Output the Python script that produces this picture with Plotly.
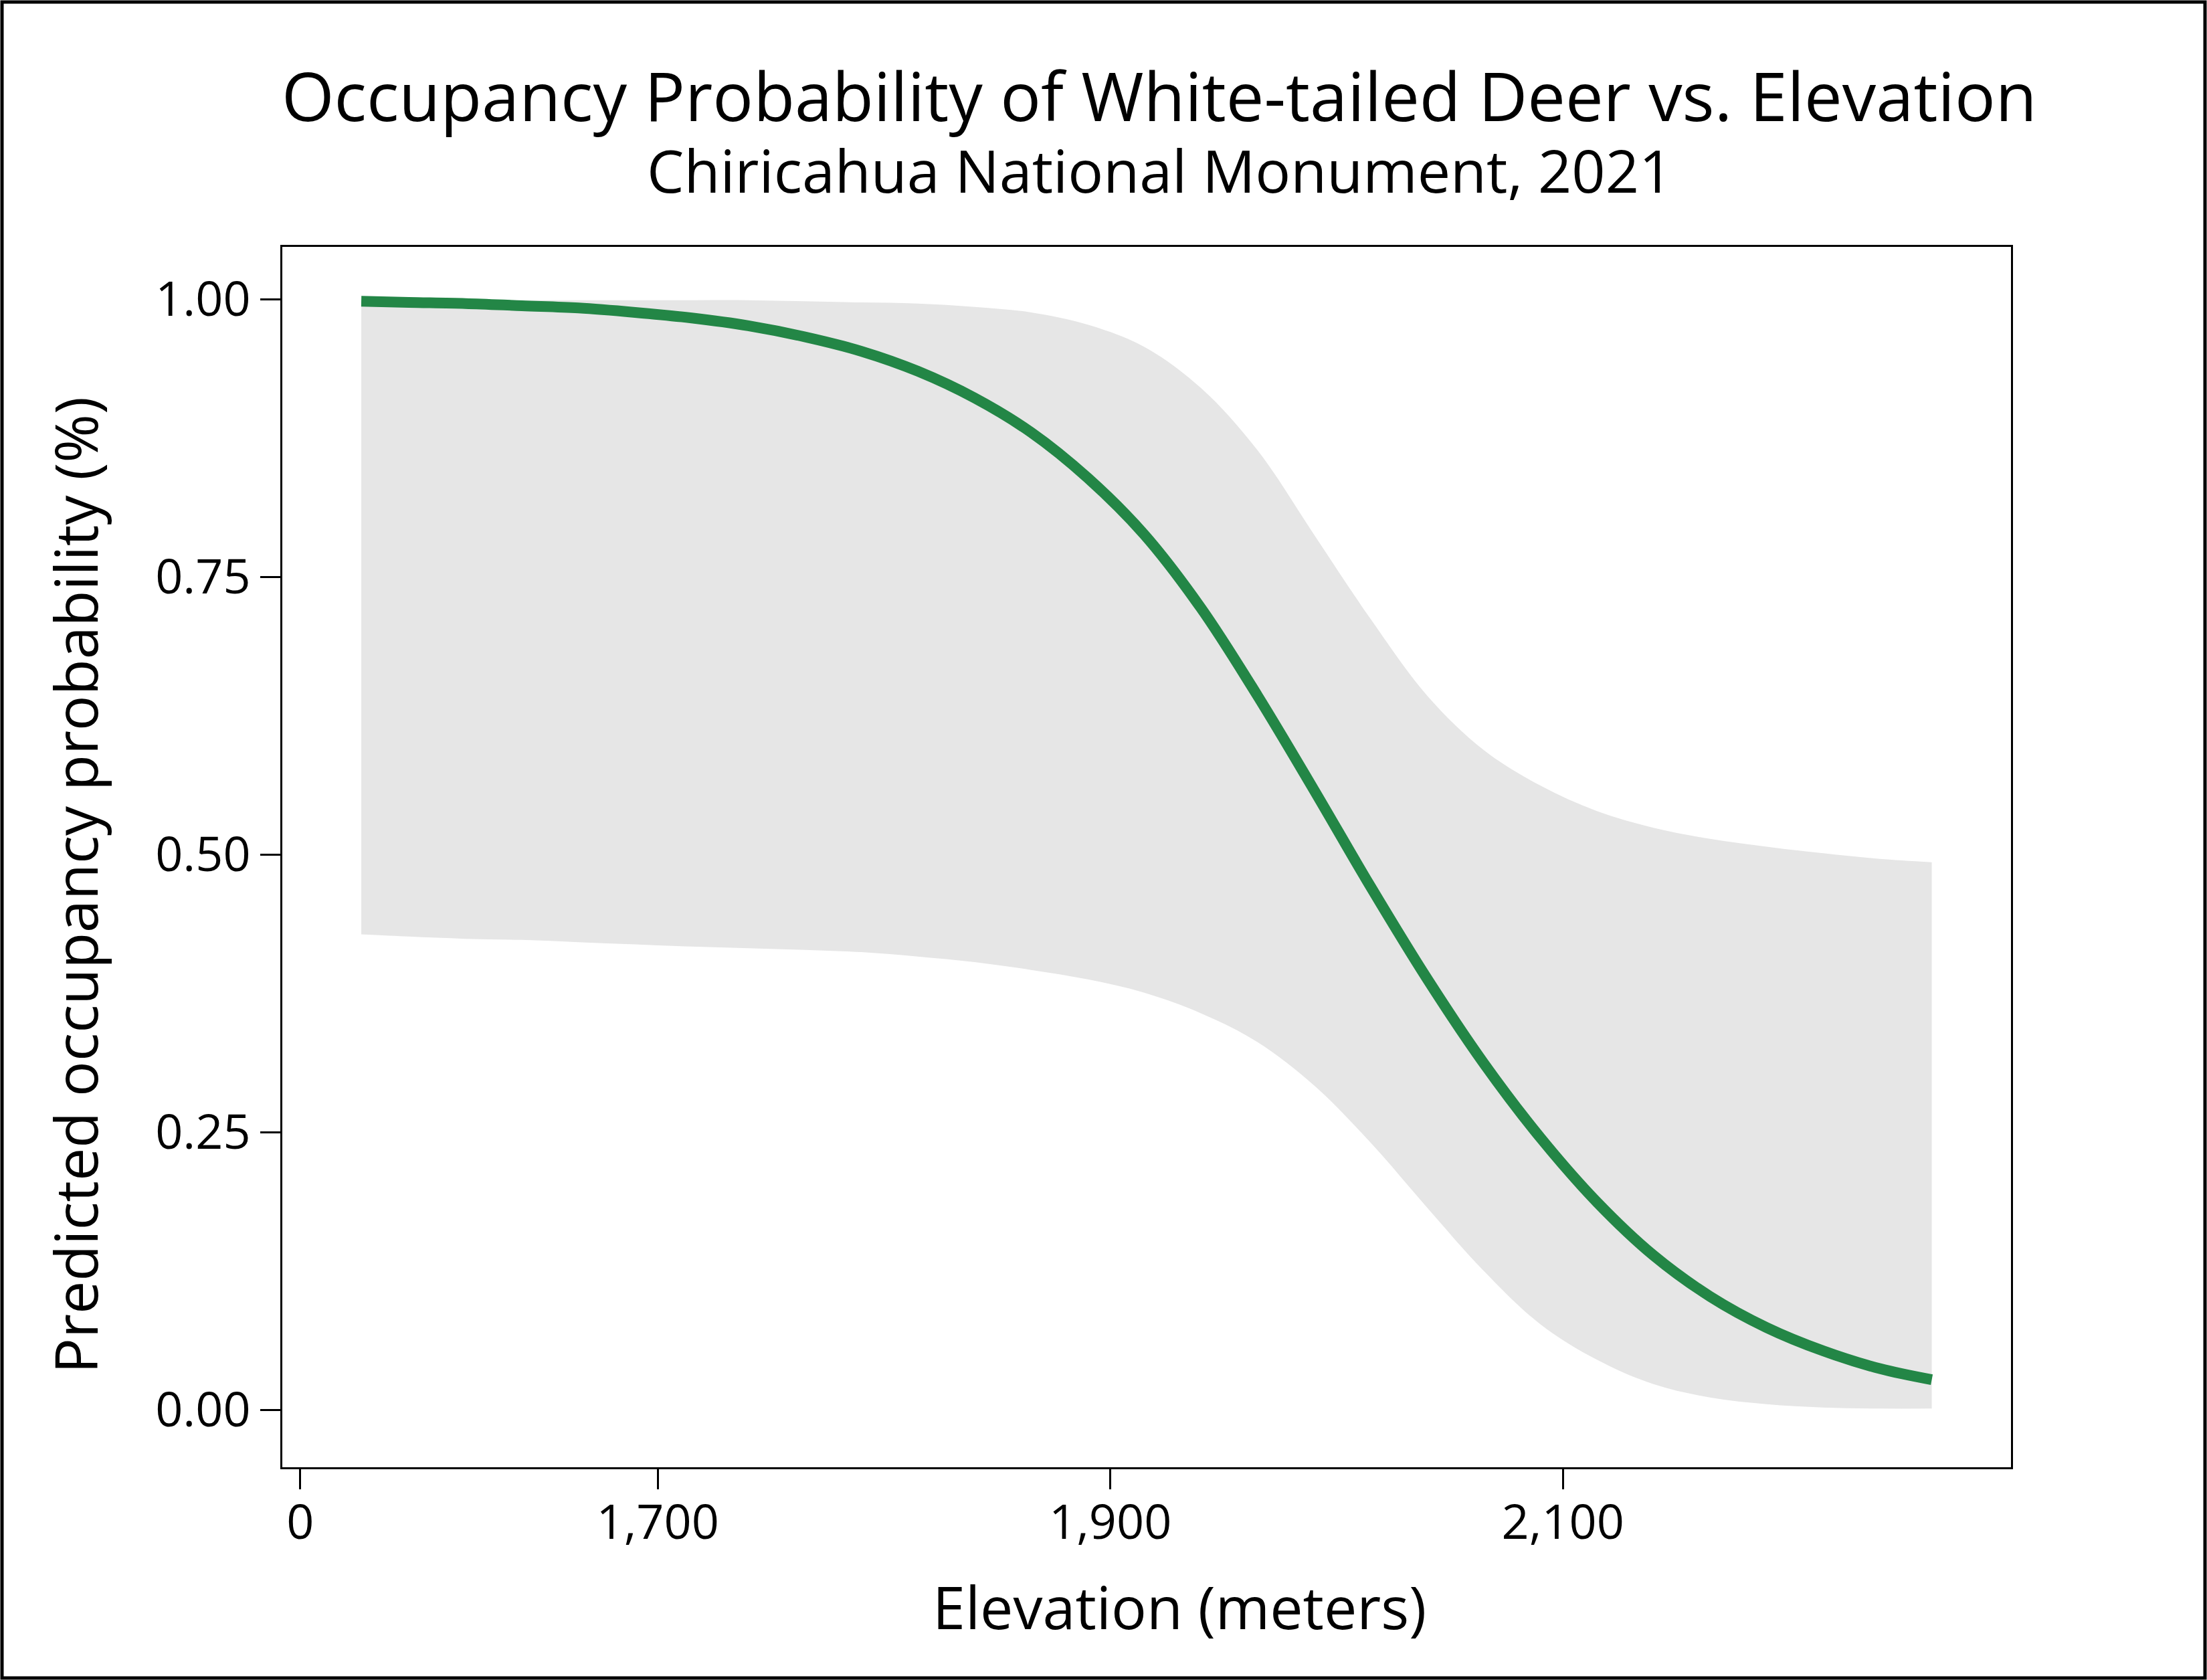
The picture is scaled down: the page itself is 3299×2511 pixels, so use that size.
import plotly.graph_objects as go

# ── Data ──
elevation = [1569, 1590, 1615, 1640, 1665, 1690, 1715, 1740, 1765, 1790,
             1815, 1840, 1865, 1890, 1915, 1940, 1965, 1990, 2015, 2040,
             2065, 2090, 2115, 2140, 2165, 2190, 2215, 2240, 2263]
occupancy = [0.998, 0.997, 0.996, 0.994, 0.992, 0.988, 0.983, 0.976, 0.966, 0.953,
             0.935, 0.911, 0.880, 0.839, 0.788, 0.722, 0.643, 0.558, 0.471, 0.388,
             0.312, 0.245, 0.187, 0.139, 0.102, 0.074, 0.053, 0.037, 0.027]
upper_ci = [0.999, 0.999, 0.999, 0.999, 0.999, 0.999, 0.999, 0.999, 0.998, 0.997,
            0.996, 0.993, 0.988, 0.977, 0.957, 0.920, 0.864, 0.788, 0.712, 0.643,
            0.594, 0.562, 0.539, 0.524, 0.514, 0.507, 0.501, 0.496, 0.493]
lower_ci = [0.428, 0.426, 0.424, 0.423, 0.421, 0.419, 0.417, 0.4155, 0.414, 0.412,
            0.408, 0.403, 0.396, 0.3875, 0.3755, 0.357, 0.331, 0.292, 0.2405, 0.182,
            0.125, 0.077, 0.045, 0.023, 0.011, 0.005, 0.002, 0.001, 0.001]

x_tickvals = [1542, 1700, 1900, 2100]
x_ticktext = ["0", "1,700", "1,900", "2,100"]
y_tickvals = [0, 0.25, 0.5, 0.75, 1.0]

FONT = "Open Sans"
GREEN = "#238646"
RIBBON = "#E6E6E6"

fig = go.Figure()

# ── confidence ribbon ──
fig.add_trace(go.Scatter(
    x=elevation, y=lower_ci, mode="lines",
    line=dict(width=0, color=RIBBON, shape="spline"),
    showlegend=False, hoverinfo="skip",
))
fig.add_trace(go.Scatter(
    x=elevation, y=upper_ci, mode="lines",
    line=dict(width=0, color=RIBBON, shape="spline"),
    fill="tonexty", fillcolor=RIBBON,
    showlegend=False, hoverinfo="skip",
))

# ── predicted occupancy ──
fig.add_trace(go.Scatter(
    x=elevation, y=occupancy, mode="lines",
    line=dict(width=16, color=GREEN, shape="spline"),
    showlegend=False,
))

axis_common = dict(
    showline=True, linecolor="black", linewidth=3, mirror=True,
    ticks="outside", ticklen=30, tickwidth=3, tickcolor="black",
    showgrid=False, zeroline=False,
    tickfont=dict(family=FONT, size=72, color="black"),
)

fig.update_layout(
    width=3299, height=2511,
    paper_bgcolor="white", plot_bgcolor="white",
    margin=dict(l=422, r=293, t=369, b=318),
    font=dict(family=FONT, color="black"),
    xaxis=dict(
        range=[1534.1, 2298.0],
        tickvals=x_tickvals, ticktext=x_ticktext,
        ticklabelstandoff=-12,
        **axis_common,
    ),
    yaxis=dict(
        range=[-0.0518, 1.047],
        tickvals=y_tickvals, tickformat=".2f",
        ticklabelstandoff=0,
        **axis_common,
    ),
    annotations=[
        dict(text="Occupancy Probability of White-tailed Deer vs. Elevation",
             x=(1733 - 422) / 2584, y=1.0855, xref="paper", yref="paper",
             xanchor="center", yanchor="bottom", showarrow=False,
             font=dict(family=FONT, size=101, color="black")),
        dict(text="Chiricahua National Monument, 2021",
             x=(1733 - 422) / 2584, y=1.029, xref="paper", yref="paper",
             xanchor="center", yanchor="bottom", showarrow=False,
             font=dict(family=FONT, size=88, color="black")),
        dict(text="Elevation (meters)",
             x=(1763 - 422) / 2584, y=-(2401 - 2193) / 1824, xref="paper", yref="paper",
             xanchor="center", yanchor="middle", showarrow=False,
             font=dict(family=FONT, size=88, color="black")),
        dict(text="Predicted occupancy probability (%)",
             x=(112 - 422) / 2584, y=0.477, xref="paper", yref="paper",
             xanchor="center", yanchor="middle", textangle=-90, showarrow=False,
             font=dict(family=FONT, size=88, color="black")),
    ],
    shapes=[
        # outer frame around the whole figure
        dict(type="rect", xref="paper", yref="paper",
             x0=(3 - 422) / 2584, x1=(3296 - 422) / 2584,
             y0=-(2508 - 2193) / 1824, y1=1 + (369 - 3) / 1824,
             line=dict(color="black", width=5), fillcolor="rgba(0,0,0,0)"),
    ],
)

# page body has a default 8px margin; drop it so the figure fills the window
fig.write_html("out.html", config={"displayModeBar": False},
               post_script="document.body.style.margin = '0px';")
